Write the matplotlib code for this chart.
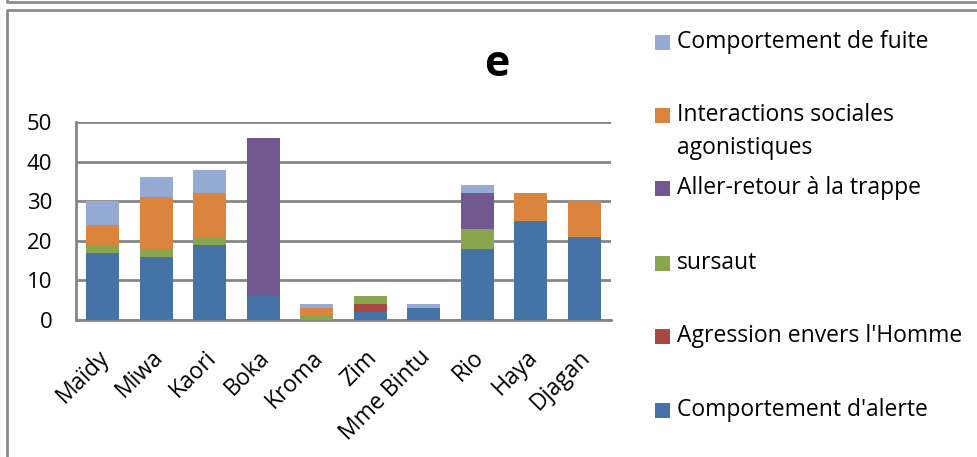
import matplotlib
matplotlib.use("Agg")
import matplotlib.pyplot as plt
from matplotlib.patches import Rectangle
from matplotlib.lines import Line2D
from matplotlib.transforms import ScaledTranslation
import numpy as np

plt.rcParams['font.family'] = ['Open Sans', 'DejaVu Sans']

individus = ["Maïdy", "Miwa", "Kaori", "Boka", "Kroma", "Zim", "Mme Bintu", "Rio", "Haya", "Djagan"]

alerte      = [17, 16, 19, 6, 0, 2, 3, 18, 25, 21]
agression   = [0, 0, 0, 0, 0, 2, 0, 0, 0, 0]
sursaut     = [2, 2, 2, 0, 1, 2, 0, 5, 0, 0]
trappe      = [0, 0, 0, 40, 0, 0, 0, 9, 0, 0]
agonistique = [5, 13, 11, 0, 2, 0, 0, 0, 7, 9]
fuite       = [6, 5, 6, 0, 1, 0, 1, 2, 0, 0]

series = [
    ("Comportement d'alerte", alerte, "#4572A7"),
    ("Agression envers l'Homme", agression, "#AA4643"),
    ("sursaut", sursaut, "#89A54E"),
    ("Aller-retour à la trappe", trappe, "#71588F"),
    ("Interactions sociales\nagonistiques", agonistique, "#DB843D"),
    ("Comportement de fuite", fuite, "#95ABD3"),
]

W, H = 977, 457
fig = plt.figure(figsize=(W / 100, H / 100), dpi=100)

def fx(px):
    return px / W

def fy(py):
    return 1 - py / H

ax = fig.add_axes([fx(76), fy(320), fx(611) - fx(76), fy(122) - fy(320)])

x = np.arange(len(individus))
bottom = np.zeros(len(individus))
bars = []
for label, vals, color in series:
    b = ax.bar(x, vals, width=0.62, bottom=bottom, color=color, label=label,
               edgecolor="none", zorder=3)
    bars.append(b)
    bottom += np.array(vals)

ax.set_xlim(-0.5, len(individus) - 0.5)
ax.set_ylim(0, 50)
ax.set_yticks(range(0, 51, 10))
ax.yaxis.grid(True, color="#868686", linewidth=2, zorder=0)
ax.set_axisbelow(True)
for side in ("top", "right"):
    ax.spines[side].set_visible(False)
for side in ("left", "bottom"):
    ax.spines[side].set_color("#868686")
    ax.spines[side].set_linewidth(2)
ax.tick_params(axis="y", length=0, labelsize=16, pad=17)
ax.tick_params(axis="x", length=0, labelsize=16.5, pad=0)
ax.set_xticks(x)
ax.set_xticklabels(individus, rotation=45, ha="right", va="center",
                   rotation_mode="anchor")
shift = ScaledTranslation(0.03, -0.34, fig.dpi_scale_trans)
for lab in ax.get_xticklabels():
    lab.set_transform(lab.get_transform() + shift)

fig.text(fx(497), fy(65), "e", fontsize=31, fontweight="bold", ha="center", va="center")

# legend, top entry first (square left, label right)
legend_rows = [(5, 42), (4, 115), (3, 188), (2, 263), (1, 336), (0, 410)]
sq = 15
for idx, yc in legend_rows:
    label = series[idx][0]
    fig.patches.append(Rectangle((fx(655), fy(yc + sq / 2)), fx(sq), sq / H,
                                 transform=fig.transFigure,
                                 facecolor=bars[idx].patches[0].get_facecolor(),
                                 edgecolor="none"))
    for k, line in enumerate(label.split("\n")):
        fig.text(fx(677), fy(yc + 33 * k), line, fontsize=16.5, va="center", ha="left")

# chart frame
border = "#8C8C8C"
fig.lines.append(Line2D([fx(7), fx(7), 1], [1, fy(2), fy(2)], transform=fig.transFigure,
                        color=border, linewidth=2))
fig.lines.append(Line2D([fx(7), fx(7), 1], [0, fy(10), fy(10)], transform=fig.transFigure,
                        color=border, linewidth=2))

fig.savefig("out.png", dpi=100)
